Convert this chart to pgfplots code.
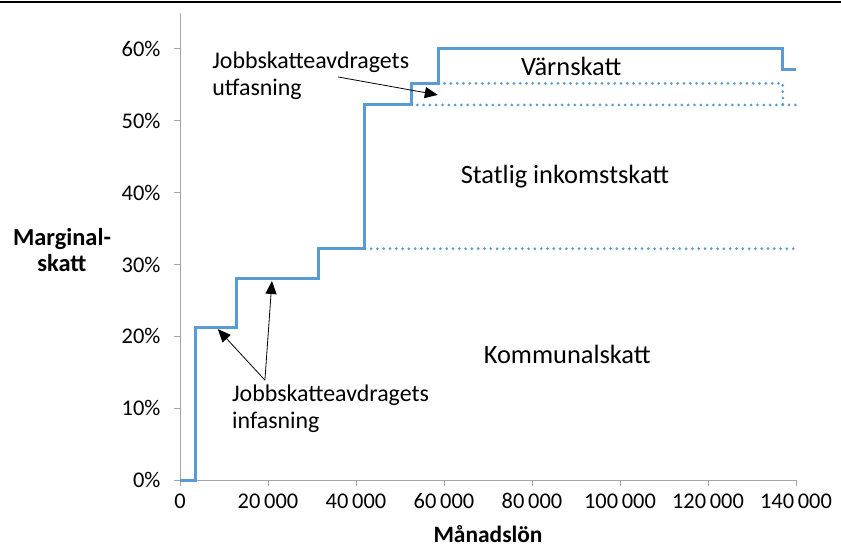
\documentclass[border=0pt]{standalone}
\usepackage{pgfplots}
\pgfplotsset{compat=1.18}
\usepackage{fontspec}
\setmainfont{Carlito}
\usetikzlibrary{arrows.meta}
\definecolor{xlblue}{HTML}{5B9BD5}
\definecolor{axgrey}{HTML}{A6A6A6}
\begin{document}
\begin{tikzpicture}
\useasboundingbox (-180bp,-67bp) rectangle (661bp,480bp);
\draw[line width=2.2bp,black] (-180bp,478.3bp) -- (661bp,478.3bp);
\begin{axis}[
  at={(0,0)}, anchor=south west,
  scale only axis, width=616bp, height=467bp,
  xmin=0, xmax=140000, ymin=0, ymax=65,
  scaled x ticks=false,
  axis x line*=bottom, axis y line*=left,
  axis line style={axgrey, line width=0.9bp, -},
  tick style={axgrey, line width=0.9bp},
  tick align=outside, major tick length=6bp,
  xtick={0,20000,40000,60000,80000,100000,120000,140000},
  xticklabels={0,20\,000,40\,000,60\,000,80\,000,100\,000,120\,000,140\,000},
  ytick={0,10,20,30,40,50,60},
  yticklabels={0\%,10\%,20\%,30\%,40\%,50\%,60\%},
  ticklabel style={font=\fontsize{22.5}{26}\selectfont, text=black},
  xticklabel style={yshift=-4bp},
  yticklabel style={xshift=-10bp},
  clip=false,
]
\addplot[xlblue, line width=3bp, line join=miter] coordinates {
 (0,0)(3500,0)(3500,21.2)(12900,21.2)(12900,28.1)(31400,28.1)(31400,32.2)
 (42000,32.2)(42000,52.2)(52500,52.2)(52500,55.2)(58700,55.2)(58700,60.1)
 (137000,60.1)(137000,57.2)(140000,57.2)};
\addplot[xlblue, line width=3bp, line cap=round, dash pattern=on 0bp off 6.3bp] coordinates {(42000,32.2)(140000,32.2)};
\addplot[xlblue, line width=3bp, line cap=round, dash pattern=on 0bp off 6.3bp] coordinates {(52500,52.2)(140000,52.2)};
\addplot[xlblue, line width=3bp, line cap=round, dash pattern=on 0bp off 6.3bp] coordinates {(58700,55.2)(137000,55.2)(137000,52.2)};

\node[font=\fontsize{26.5}{30}\selectfont] at (axis cs:88900,57.6) {Värnskatt};
\node[font=\fontsize{26.5}{30}\selectfont] at (axis cs:87500,42.2) {Statlig inkomstskatt};
\node[font=\fontsize{26.5}{30}\selectfont] at (axis cs:88000,17.5) {Kommunalskatt};
\node[font=\fontsize{24}{27}\selectfont, align=left, anchor=west, inner sep=0pt] at (axis cs:7300,56.3) {Jobbskatteavdragets\\utfasning};
\node[font=\fontsize{24}{27}\selectfont, align=left, anchor=west, inner sep=0pt] at (axis cs:11800,9.9) {Jobbskatteavdragets\\infasning};

\draw[black, line width=0.8bp, -{Triangle[length=13bp,width=11bp]}] (axis cs:35900,56.1) -- (axis cs:58600,53.6);
\draw[black, line width=0.8bp, -{Triangle[length=13bp,width=11bp]}] (axis cs:19300,13.9) -- (axis cs:8600,21.0);
\draw[black, line width=0.8bp, -{Triangle[length=13bp,width=11bp]}] (axis cs:19300,13.9) -- (axis cs:20900,27.7);

\node[font=\bfseries\fontsize{24.5}{27}\selectfont, align=center, inner sep=0pt] at ([xshift=-118bp]rel axis cs:0,0.4925) {Marginal-\\skatt};
\node[font=\bfseries\fontsize{23.5}{27}\selectfont, inner sep=0pt] at ([yshift=-54bp]rel axis cs:0.5,0) {Månadslön};
\end{axis}
\end{tikzpicture}
\end{document}
